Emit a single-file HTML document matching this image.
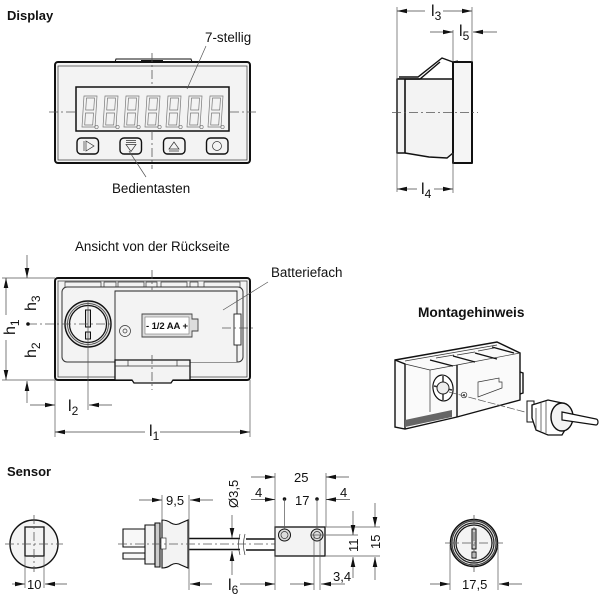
<!DOCTYPE html>
<html><head><meta charset="utf-8"><style>
html,body{margin:0;padding:0;background:#fff}
svg{display:block;filter:blur(.35px)}
text{font-family:"Liberation Sans",sans-serif;font-size:13.4px;fill:#111}
.b{font-weight:bold;font-size:13px}
.o{fill:#f3f3f3;stroke:#111;stroke-width:2;stroke-linejoin:round}
.t{fill:none;stroke:#333;stroke-width:.7}
.g{fill:none;stroke:#777;stroke-width:.7}
.d{fill:none;stroke:#555;stroke-width:.7}
.c{fill:none;stroke:#555;stroke-width:.8;stroke-dasharray:9 3 2 3}
.a{fill:none;stroke:#444;stroke-width:.7;marker-end:url(#ar)}
.k{fill:none;stroke:#111;stroke-width:1.4}
</style></head><body>
<svg width="600" height="600" viewBox="0 0 600 600" xmlns="http://www.w3.org/2000/svg">
<defs>
<marker id="ar" markerUnits="userSpaceOnUse" markerWidth="11" markerHeight="6" refX="10" refY="3" orient="auto"><path d="M0 0.7L10 3L0 5.300z" fill="#111"/></marker>
<g id="dg"><path class="g" d="M84 96h13l-2 31H82zM86.500 98h8l-.8 12h-8zM85.500 113h8l-.8 12h-8z"/><circle cx="96.500" cy="127" r="1.700" class="g"/></g>
</defs>

<text class="b" x="7" y="20">Display</text>
<text x="205" y="42">7-stellig</text>
<text x="112" y="193">Bedientasten</text>
<!-- front -->
<path d="M115 62l1-3h75l1 3" fill="#fff" stroke="#111" stroke-width="1"/>
<path d="M141 61h22" stroke="#111" stroke-width="2"/>
<rect class="o" x="55" y="62" width="195" height="101" rx="3"/>
<rect class="t" x="58" y="66" width="189" height="94"/>
<rect x="76" y="87" width="153" height="44" fill="#f3f3f3" stroke="#111" stroke-width="1.500"/>
<use href="#dg"/><use href="#dg" x="21"/><use href="#dg" x="42"/><use href="#dg" x="63"/><use href="#dg" x="84"/><use href="#dg" x="105"/><use href="#dg" x="126"/>
<rect class="k" x="77" y="138" width="21.500" height="16" rx="4" fill="#f3f3f3"/>
<rect class="k" x="120" y="138" width="21.500" height="16" rx="4" fill="#f3f3f3"/>
<rect class="k" x="163.500" y="138" width="21.500" height="16" rx="4" fill="#f3f3f3"/>
<rect class="k" x="206.500" y="138" width="21.500" height="16" rx="4" fill="#f3f3f3"/>
<path class="t" d="M84 141v10M86 141v10l8-5z"/>
<path class="t" d="M126 140.500h10M126 142.500h10M126 144.500h10l-5 7z"/>
<path class="t" d="M169 149l5-7 5 7zM169 151h10"/>
<circle class="t" cx="217" cy="146" r="4.500"/>
<path class="c" d="M152 53V87M152 131V169M49 112H75M230 112H256"/>
<path class="d" d="M206 46L187 89M146 177L129 151"/>

<!-- side -->
<path d="M405 79h48v74l-6 5-18-1-24-4z" fill="#f3f3f3"/>
<path class="k" d="M399 77h19l24-19 11 4 5-1" stroke-width="1.400"/>
<path class="k" d="M398 79h22l20-17" stroke-width="1"/>
<rect class="o" x="453" y="62" width="19" height="101" style="fill:#f5f5f5"/>
<rect class="o" x="397" y="79" width="8" height="74" style="stroke-width:1.600"/>
<path class="k" d="M405 79h48M405 153l24 4 18 1 6-5" stroke-width="1"/>
<path class="c" d="M392 112.500H478"/>
<path class="d" d="M397 7V192M472 7V62M453 30V62M453 153V193"/>
<path class="a" d="M425 11H397"/><path class="a" d="M443 11H472"/>
<path class="a" d="M430 32H453"/><path class="a" d="M497 32H473"/>
<path class="a" d="M417 189H397"/><path class="a" d="M434 189H453"/>
<text x="431" y="16" style="font-size:16px">l<tspan dy="4" style="font-size:12px">3</tspan></text>
<text x="459" y="36" style="font-size:16px">l<tspan dy="4" style="font-size:12px">5</tspan></text>
<text x="421" y="194" style="font-size:16px">l<tspan dy="4" style="font-size:12px">4</tspan></text>

<!-- back -->
<text x="75" y="251">Ansicht von der Rückseite</text>
<text x="271" y="277">Batteriefach</text>
<rect class="o" x="55" y="278" width="195" height="102" rx="3"/>
<rect class="t" x="58" y="281" width="189" height="96"/>
<path class="t" d="M65 287v-5h36v5M104 282h12v5h-12zM118 287v-5h26v5M146 282h11v5h-11zM161 287v-5h26v5M190 282h8v5h-8zM204 287v-5h36v5"/>
<rect x="62" y="287" width="181" height="75" rx="5" fill="#f3f3f3" stroke="#333" stroke-width="1"/>
<path d="M115 362V291H237V362" fill="#f3f3f3" stroke="#222" stroke-width=".9"/>
<circle cx="88" cy="324" r="23" fill="#ddd" stroke="#111" stroke-width="1.400"/>
<circle cx="88" cy="324" r="20.500" class="t"/>
<circle cx="88" cy="324" r="18.500" fill="#f6f6f6" stroke="#111" stroke-width="1.200"/>
<rect x="85.500" y="310" width="5" height="17" fill="#ddd" stroke="#111"/>
<rect x="85.500" y="332" width="5" height="7" fill="#ddd" stroke="#111"/>
<circle class="t" cx="125" cy="331" r="5.500"/><circle class="t" cx="125" cy="331" r="2"/>
<path d="M142 314h50v5h6v12h-6v6h-50z" fill="#ddd" stroke="#444" stroke-width=".9"/>
<rect x="145" y="317" width="44" height="17" fill="#fff" stroke="#777" stroke-width=".6"/>
<text x="146" y="329" style="font-size:9.500px;font-weight:bold" textLength="42">- 1/2 AA +</text>
<rect x="234" y="314" width="7" height="31" fill="#fff" stroke="#222" stroke-width=".9"/>
<path d="M115 360h75v20h-17l-2 3h-37l-2-3h-17z" fill="#f3f3f3" stroke="#111" stroke-width="1.300"/>
<path class="t" d="M115 366h75M128 360v6M177 360v6"/>
<path class="c" d="M152 270V290M152 355V390M222 328H256"/>
<path class="c" d="M28 324H112"/>
<circle cx="28" cy="324" r="1.800" fill="#111"/>
<path class="d" d="M268 282L223 310M2 278H55M2 380H55M55 380V437M250 380V437M88 300V410"/>
<path class="a" d="M6 315V278"/><path class="a" d="M6 340V380"/>
<path class="a" d="M27 255V278"/><path class="a" d="M27 403V381"/>
<path class="a" d="M30 405H55"/><path class="a" d="M112 405H89"/>
<path class="a" d="M145 432H55"/><path class="a" d="M160 432H250"/>
<text transform="translate(15 335) rotate(-90)" style="font-size:16px">h<tspan dy="4" style="font-size:12px">1</tspan></text>
<text transform="translate(36 311) rotate(-90)" style="font-size:16px">h<tspan dy="4" style="font-size:12px">3</tspan></text>
<text transform="translate(36 358) rotate(-90)" style="font-size:16px">h<tspan dy="4" style="font-size:12px">2</tspan></text>
<text x="68" y="411" style="font-size:16px">l<tspan dy="4" style="font-size:12px">2</tspan></text>
<text x="149" y="436" style="font-size:16px">l<tspan dy="4" style="font-size:12px">1</tspan></text>

<!-- mounting -->
<text class="b" x="418" y="317" style="font-size:13.700px">Montagehinweis</text>
<path d="M395 360L497 342L520 353V400L457 417L405 429L395 427z" fill="#fafafa" stroke="#111" stroke-width="1.400"/>
<path d="M395 360L405 364V429" class="k"/>
<path d="M405 364L430 370L457 365L520 353" class="t"/>
<path d="M405 361L497 345" class="t"/>
<path d="M457 365V417" class="k" stroke-width="1"/>
<path d="M405 420L452 410V417L405 427z" fill="#666"/>
<path d="M430 370V412" class="t"/>
<path class="k" stroke-width=".9" d="M430 360l23 6M453 356l22 6M475 353l22 6M492 347l22 6"/>
<path class="t" d="M436 358l18-3M457 355l18-3M478 351l16-3"/>
<path class="k" d="M520 372l3 1v20l-3 1" stroke-width=".9"/>
<ellipse cx="443" cy="388" rx="10" ry="13" transform="rotate(-8 443 388)" fill="#fff" stroke="#111" stroke-width="1.200"/>
<path d="M443 376v24M434 386l18 4" stroke="#333" stroke-width="1.500" fill="none"/>
<circle cx="443" cy="388" r="6" fill="#eee" stroke="#222" stroke-width="1"/>
<path class="t" d="M478 382l21-4v4h3v6l-24 9z"/>
<circle cx="464" cy="395" r="2.800" class="t"/><circle cx="464" cy="395" r="1" fill="#333"/>
<path class="d" d="M449 392L525 412" stroke-dasharray="8 2"/>
<path d="M527 401h7v21h-7z" fill="#fff" stroke="#111"/>
<path d="M532 405l16-5 14 3 10 15-10 17-14 0-12-5-4-12z" fill="#fff" stroke="#111" stroke-width="1.300"/>
<ellipse cx="562" cy="417" rx="11" ry="14" fill="#f3f3f3" stroke="#111" stroke-width="1.400"/>
<path d="M562 412L596 419a2 3 0 0 1 0 6L562 420z" fill="#fff" stroke="#111" stroke-width="1.200"/>
<path class="t" d="M536 408v22M541 403v28M546 401v32"/>

<!-- sensor -->
<text class="b" x="7" y="476">Sensor</text>
<circle cx="34" cy="544" r="24" fill="#f3f3f3" stroke="#111" stroke-width="1.400"/>
<rect x="25" y="527" width="19" height="29" fill="#f3f3f3" stroke="#111" stroke-width="1.300"/>
<path class="c" d="M5 544H63M34 515V572"/>
<path class="d" d="M25 556V588M44 556V588"/>
<path class="a" d="M12 584H25"/><path class="a" d="M67 584H45"/>
<text x="27" y="589" style="font-size:13px">10</text>

<path d="M123 529H145V547H123zM123 553H145V559H123z" fill="#f8f8f8" stroke="#111" stroke-width="1.100"/>
<path d="M145 525h10v39h-10z" fill="#f3f3f3" stroke="#111" stroke-width="1.100"/>
<path d="M155 523h5v44h-5z" fill="#ccc" stroke="#111" stroke-width="1.100"/>
<path d="M162 520q5 0 9 3 5 3 10 0l7-3v48l-7-3q-5-3-10 0-4 3-9 3z" fill="#f3f3f3" stroke="#111" stroke-width="1.100"/>
<rect x="161" y="538" width="5" height="11" fill="#fff" stroke="#333" stroke-width=".7"/>
<path class="k" d="M189 538.500H240M189 549.500H240M246 539H275M246 550H275" stroke-width="1.300"/>
<path d="M240 534q-3 11 0 21M245 534q-3 11 0 21" class="t"/>
<path class="c" d="M118 544H275"/>
<rect x="275" y="527" width="50" height="29" fill="#f3f3f3" stroke="#111" stroke-width="1.300"/>
<circle cx="284.500" cy="535" r="6" fill="#ddd" stroke="#111"/><circle cx="284.500" cy="535" r="3.500" class="t"/>
<circle cx="317" cy="535" r="6" fill="#ddd" stroke="#111"/><circle cx="317" cy="535" r="3.500" class="t"/>
<circle cx="284.500" cy="499" r="1.800" fill="#111"/><circle cx="317" cy="499" r="1.800" fill="#111"/>

<path class="d" d="M162 495V520M189 495V590M275 473V590M326 473V527M284.500 499V529M317 499V529M314 535V590M320 535V590M325 527H380M310 535H358M325 556H380"/>
<path class="a" d="M139 500H162"/><path class="a" d="M213 500H190"/>
<text x="166" y="505" style="font-size:13px">9,5</text>
<path class="a" d="M232 515V538"/><path class="a" d="M232 575V551"/>
<text transform="translate(238 508) rotate(-90)" style="font-size:13px">Ø3,5</text>
<path class="a" d="M212 584H190"/><path class="a" d="M240 584H275"/>
<text x="228" y="590" style="font-size:16px">l<tspan dy="4" style="font-size:12px">6</tspan></text>
<path class="a" d="M251 477H275"/><path class="a" d="M349 477H326"/>
<text x="294" y="482" style="font-size:13px">25</text>
<path class="a" d="M251 499.500H275"/><path class="a" d="M350 499.500H326"/>
<text x="255" y="497" style="font-size:13px">4</text>
<text x="340" y="497" style="font-size:13px">4</text>
<text x="295" y="505" style="font-size:13px">17</text>
<path class="a" d="M290 584H314"/><path class="a" d="M345 584H321"/>
<text x="333" y="581" style="font-size:13px">3,4</text>
<path class="a" d="M353 511V535"/><path class="a" d="M353 578V557"/>
<path class="a" d="M375 503V527"/><path class="a" d="M375 580V557"/>
<text transform="translate(358 552) rotate(-90)" style="font-size:13px">11</text>
<text transform="translate(380 549) rotate(-90)" style="font-size:13px">15</text>

<circle cx="474" cy="543" r="23.500" fill="#f3f3f3" stroke="#111" stroke-width="1.500"/>
<circle cx="474" cy="543" r="22" fill="none" stroke="#333" stroke-width="1"/>
<circle cx="474" cy="543" r="20" fill="none" stroke="#222" stroke-width="1.200"/>
<circle cx="474" cy="543" r="18" fill="#f4f4f4" stroke="#111" stroke-width="1.200"/>
<rect x="472" y="529" width="4" height="20" fill="#ccc" stroke="#111"/>
<rect x="472" y="552" width="4" height="6" fill="#fff" stroke="#111"/>
<path class="c" d="M445 543H503M474 515V572"/>
<path class="d" d="M450 545V590M498 545V590"/>
<path class="a" d="M430 584H450"/><path class="a" d="M522 584H499"/>
<text x="462" y="589" style="font-size:13px">17,5</text>
</svg>
</body></html>
